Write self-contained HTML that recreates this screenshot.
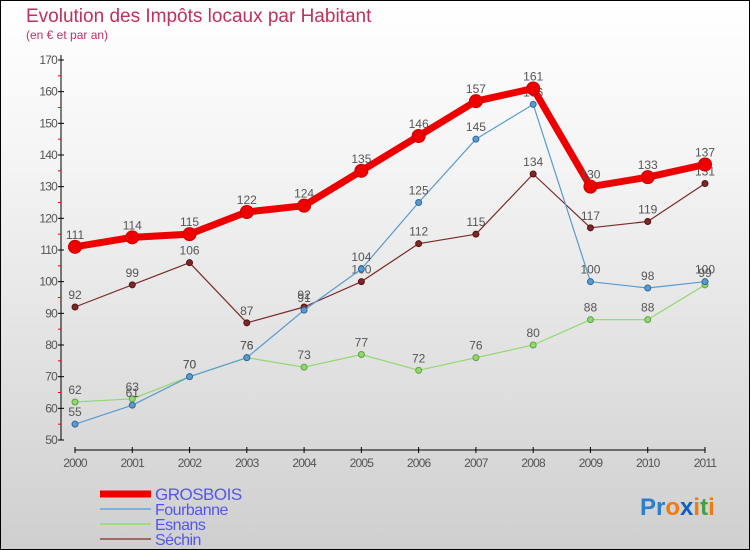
<!DOCTYPE html>
<html><head><meta charset="utf-8"><style>
body{margin:0;width:750px;height:550px;overflow:hidden}
#c{position:absolute;left:0;top:0;width:748px;height:548px;border:1px solid #000;background:linear-gradient(#fff,#f4f4f4 30%,#cfcfcf)}
svg{position:absolute;left:0;top:0}
text{font-family:"Liberation Sans",sans-serif}
</style></head><body>
<div id="c"></div>
<svg id="s" width="750" height="550">
<text x="26" y="22" font-size="19" fill="#c0305a" font-weight="300">Evolution des Impôts locaux par Habitant</text>
<text x="26" y="39" font-size="12" fill="#c0306a">(en € et par an)</text>
<text x="640" y="515" font-size="24" font-weight="bold"><tspan fill="#2a7fd0">Pr</tspan><tspan fill="#f07a10">o</tspan><tspan fill="#1060c0">x</tspan><tspan fill="#f07a10">i</tspan><tspan fill="#44a040">t</tspan><tspan fill="#f07a10">i</tspan></text>
</svg>
<script>
const years=["2000","2001","2002","2003","2004","2005","2006","2007","2008","2009","2010","2011"];
const yTicks=[50,60,70,80,90,100,110,120,130,140,150,160,170];
const grosbois=[111,114,115,122,124,135,146,157,161,130,133,137];
const fourbanne=[55,61,70,76,91,104,125,145,156,100,98,100];
const esnans=[62,63,70,76,73,77,72,76,80,88,88,99];
const sechin=[92,99,106,87,92,100,112,115,134,117,119,131];
const NS="http://www.w3.org/2000/svg",svg=document.getElementById('s');
const X=i=>75+i*(630/11), Y=v=>440-(v-50)*(380/120);
function el(t,a,p){const e=document.createElementNS(NS,t);for(const k in a)e.setAttribute(k,a[k]);(p||svg).appendChild(e);return e;}
let ax=el('line',{x1:61,y1:55,x2:61,y2:440,stroke:'#000'});


let bx=el('line',{x1:75,y1:450,x2:705,y2:450,stroke:'#000'});


yTicks.forEach(v=>{el('line',{x1:58,y1:Y(v),x2:64,y2:Y(v),stroke:'#000'});
 if(v<170)el('line',{x1:58,y1:Y(v+5),x2:61,y2:Y(v+5),stroke:'#e00'});
 const t=el('text',{x:57,y:Y(v)+4,'font-size':12,fill:'#555','text-anchor':'end','letter-spacing':'-0.8'});t.textContent=v;
 
 });
years.forEach((y,i)=>{el('line',{x1:X(i),y1:447,x2:X(i),y2:453,stroke:'#000'});
 const t=el('text',{x:X(i),y:467,'font-size':12,fill:'#555','text-anchor':'middle','letter-spacing':'-0.8'});t.textContent=y;
 
 });
function series(d,col,dark,w,r,name){
 const g=el('g',{});
 
 
 el('polyline',{points:d.map((v,i)=>X(i)+','+Y(v)).join(' '),fill:'none',stroke:col,'stroke-width':w,'stroke-linejoin':'round'},g);
 d.forEach((v,i)=>{const c=el('circle',{cx:X(i),cy:Y(v),r:r,fill:col,stroke:dark,'stroke-width':1},g);
  
  
  const t=el('text',{x:X(i),y:Y(v)-8,'font-size':12,fill:'#555','text-anchor':'middle'},g);t.textContent=v;
  
  });
}
series(sechin,'#7a2a2a','#5a1010',1.2,3,'sechin');
series(esnans,'#90d870','#60a040',1.2,3,'esnans');
series(fourbanne,'#5a9ad0','#2a6aa0',1.2,3,'fourbanne');
series(grosbois,'#ee0000','#cc0000',7,6.5,'grosbois');
const legend=[["GROSBOIS","#ee0000",7],["Fourbanne","#80b0d8",2],["Esnans","#a0dc80",2],["Séchin","#a06868",2]];
legend.forEach((l,i)=>{const y=494+i*15;
 const g=el('g',{});
 
 
 el('line',{x1:100,y1:y,x2:151,y2:y,stroke:l[1],'stroke-width':l[2]},g);
 const t=el('text',{x:155,y:y+6,'font-size':i==0?17:16,fill:'#5555ee','letter-spacing':'-0.5'},g);t.textContent=l[0];});
</script>
</body></html>
